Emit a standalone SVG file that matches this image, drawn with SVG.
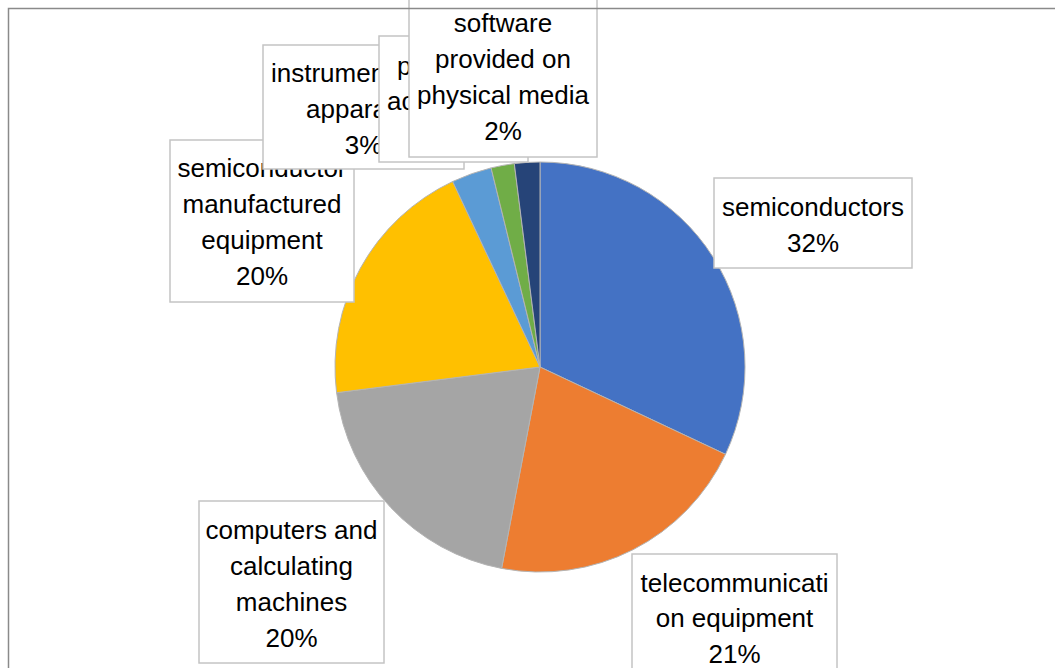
<svg xmlns="http://www.w3.org/2000/svg" width="1055" height="668" viewBox="0 0 1055 668">
<style>
.sl{stroke:#b4b4b4;stroke-width:1;stroke-linejoin:round}
.box{fill:#ffffff;stroke:#c4c4c4;stroke-width:1.5}
.t{font-family:"Liberation Sans",Arial,sans-serif;font-size:26px;fill:#000000}
.c{text-anchor:middle}
</style>
<rect x="0" y="0" width="1055" height="668" fill="#ffffff"/>
<g id="pie">
<path id="slice-semiconductors" class="sl" fill="#4472C4" d="M540,367 L540,162 A205,205 0 0 1 725.5,454.3 Z"/>
<path id="slice-telecom" class="sl" fill="#ED7D31" d="M540,367 L725.5,454.3 A205,205 0 0 1 501.6,568.4 Z"/>
<path id="slice-computers" class="sl" fill="#A5A5A5" d="M540,367 L501.6,568.4 A205,205 0 0 1 336.6,392.7 Z"/>
<path id="slice-semi-equipment" class="sl" fill="#FFC000" d="M540,367 L336.6,392.7 A205,205 0 0 1 452.7,181.5 Z"/>
<path id="slice-instruments" class="sl" fill="#5B9BD5" d="M540,367 L452.7,181.5 A205,205 0 0 1 491.1,167.9 Z"/>
<path id="slice-parts" class="sl" fill="#70AD47" d="M540,367 L491.1,167.9 A205,205 0 0 1 514.3,163.6 Z"/>
<path id="slice-software" class="sl" fill="#264478" d="M540,367 L514.3,163.6 A205,205 0 0 1 540,162 Z"/>
</g>
<g id="connectors"></g>
<g id="label-semiconductors">
<rect class="box" x="714" y="178" width="198" height="90"/>
<text class="t c" x="813" y="216">semiconductors</text>
<text class="t c" x="813" y="252">32%</text>
</g>
<g id="label-telecom">
<rect class="box" x="632" y="554" width="205" height="126"/>
<text class="t c" x="734.5" y="592">telecommunicati</text>
<text class="t c" x="734.5" y="627">on equipment</text>
<text class="t c" x="734.5" y="663">21%</text>
</g>
<g id="label-computers">
<rect class="box" x="199" y="501" width="185" height="162"/>
<text class="t c" x="291.5" y="539">computers and</text>
<text class="t c" x="291.5" y="575">calculating</text>
<text class="t c" x="291.5" y="611">machines</text>
<text class="t c" x="291.5" y="647">20%</text>
</g>
<g id="label-semi-equipment">
<rect class="box" x="170" y="140" width="184" height="162"/>
<text class="t c" x="262" y="177">semiconductor</text>
<text class="t c" x="262" y="213">manufactured</text>
<text class="t c" x="262" y="249">equipment</text>
<text class="t c" x="262" y="285">20%</text>
</g>
<g id="label-instruments">
<rect class="box" x="263" y="45" width="201" height="124"/>
<text class="t" x="271" y="82">instrumen</text>
<text class="t" x="306" y="118">appara</text>
<text class="t c" x="363.5" y="154">3%</text>
</g>
<g id="label-parts">
<rect class="box" x="379" y="36" width="149" height="126"/>
<text class="t" x="397" y="75">p</text>
<text class="t" x="387" y="110">ac</text>
</g>
<g id="label-software">
<rect class="box" x="409" y="-6" width="188" height="163"/>
<text class="t c" x="503" y="32">software</text>
<text class="t c" x="503" y="68">provided on</text>
<text class="t c" x="503" y="104">physical media</text>
<text class="t c" x="503" y="140">2%</text>
</g>
<rect id="chart-border" x="8.5" y="8.5" width="1060" height="680" fill="none" stroke="#8a8a8a" stroke-width="1.5"/>
</svg>
